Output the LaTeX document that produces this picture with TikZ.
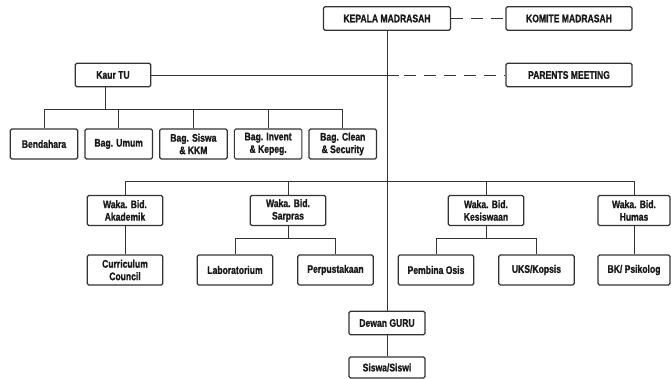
\documentclass[tikz,border=0pt]{standalone}
\usepackage{fontspec}
\newfontfamily\orgfont{Liberation Sans Bold}[FakeStretch=0.78, FakeBold=1.2]
\usetikzlibrary{positioning}

\begin{document}
\begin{tikzpicture}[
    x=1pt, y=-1pt,
    node distance=6pt,
    box/.style={draw=black!80, line width=1.2pt, rounded corners=1.5pt, minimum width=67.5pt, minimum height=30pt, inner sep=1pt, align=center, text=black!90, font=\orgfont\fontsize{11}{12.5}\selectfont},
    mid/.style={box, minimum width=75.5pt},
    wide/.style={box, minimum width=126pt, minimum height=23.5pt},
    line/.style={draw=black!80, line width=0.9pt},
    dashline/.style={line, dash pattern=on 12pt off 8pt}
]
\useasboundingbox (0,0) rectangle (671,379);

% top level
\node (kepala) [wide, minimum width=127pt] at (387,18.5) {KEPALA MADRASAH};
\node (komite) [wide] at (569,18.5) {KOMITE MADRASAH};
\node (kaur) [mid, minimum height=23.5pt] at (113,75) {Kaur TU};
\node (parents) [wide] at (569,75) {PARENTS MEETING};

% tata usaha
\node (bendahara) [box] at (44,144) {Bendahara};
\node (umum) [box, right=of bendahara] {Bag. Umum};
\node (siswa) [box, right=of umum] {Bag. Siswa\\\& KKM};
\node (invent) [box, right=of siswa] {Bag. Invent\\\& Kepeg.};
\node (clean) [box, right=of invent] {Bag. Clean\\\& Security};

% wakil kepala
\node (akademik) [mid] at (125,210.5) {Waka. Bid.\\Akademik};
\node (sarpras) [mid] at (288,210.5) {Waka. Bid.\\Sarpras};
\node (kesiswaan) [mid] at (486,210.5) {Waka. Bid.\\Kesiswaan};
\node (humas) [mid, minimum width=72pt] at (634,210.5) {Waka. Bid.\\Humas};

\node (curriculum) [mid] at (125,270) {Curriculum\\Council};
\node (lab) [mid] at (235,270) {Laboratorium};
\node (perpus) [mid] at (335.5,270) {Perpustakaan};
\node (osis) [mid] at (436,270) {Pembina Osis};
\node (uks) [mid] at (536.5,270) {UKS/Kopsis};
\node (bk) [mid, minimum width=72pt] at (634,270) {BK/ Psikolog};

\node (dewan) [mid, minimum width=76pt, minimum height=23.5pt] at (387,323) {Dewan GURU};
\node (siswi) [mid, minimum width=76pt, minimum height=21pt] at (387,367.5) {Siswa/Siswi};

% connectors
\draw [dashline] (kepala) -- (komite);
\coordinate (tusplit) at (399,75);
\draw [line] (kaur) -- (tusplit);
\draw [dashline, dash phase=15pt] (tusplit) -- (parents);

\coordinate (tubus) at (105,109);
\draw [line] (tubus) -- (tubus |- kaur.south);
\draw [line] (bendahara.north |- tubus) -- (clean.north |- tubus);
\foreach \n in {bendahara,umum,siswa,invent,clean}
    \draw [line] (\n) -- (\n |- tubus);

\draw [line] (kepala) -- (dewan);
\draw [line] (dewan) -- (siswi);

\coordinate (wakabus) at (387,181);
\draw [line] (akademik.north |- wakabus) -- (humas.north |- wakabus);
\foreach \n in {akademik,sarpras,kesiswaan,humas}
    \draw [line] (\n) -- (\n |- wakabus);

\draw [line] (akademik) -- (curriculum);
\draw [line] (humas) -- (bk);
\draw [line] (sarpras.south) -- ++(0,12.7) coordinate (sarbus);
\draw [line] (lab) |- (sarbus) -| (perpus);
\draw [line] (kesiswaan.south) -- ++(0,12.7) coordinate (kesbus);
\draw [line] (osis) |- (kesbus) -| (uks);

\end{tikzpicture}
\end{document}
